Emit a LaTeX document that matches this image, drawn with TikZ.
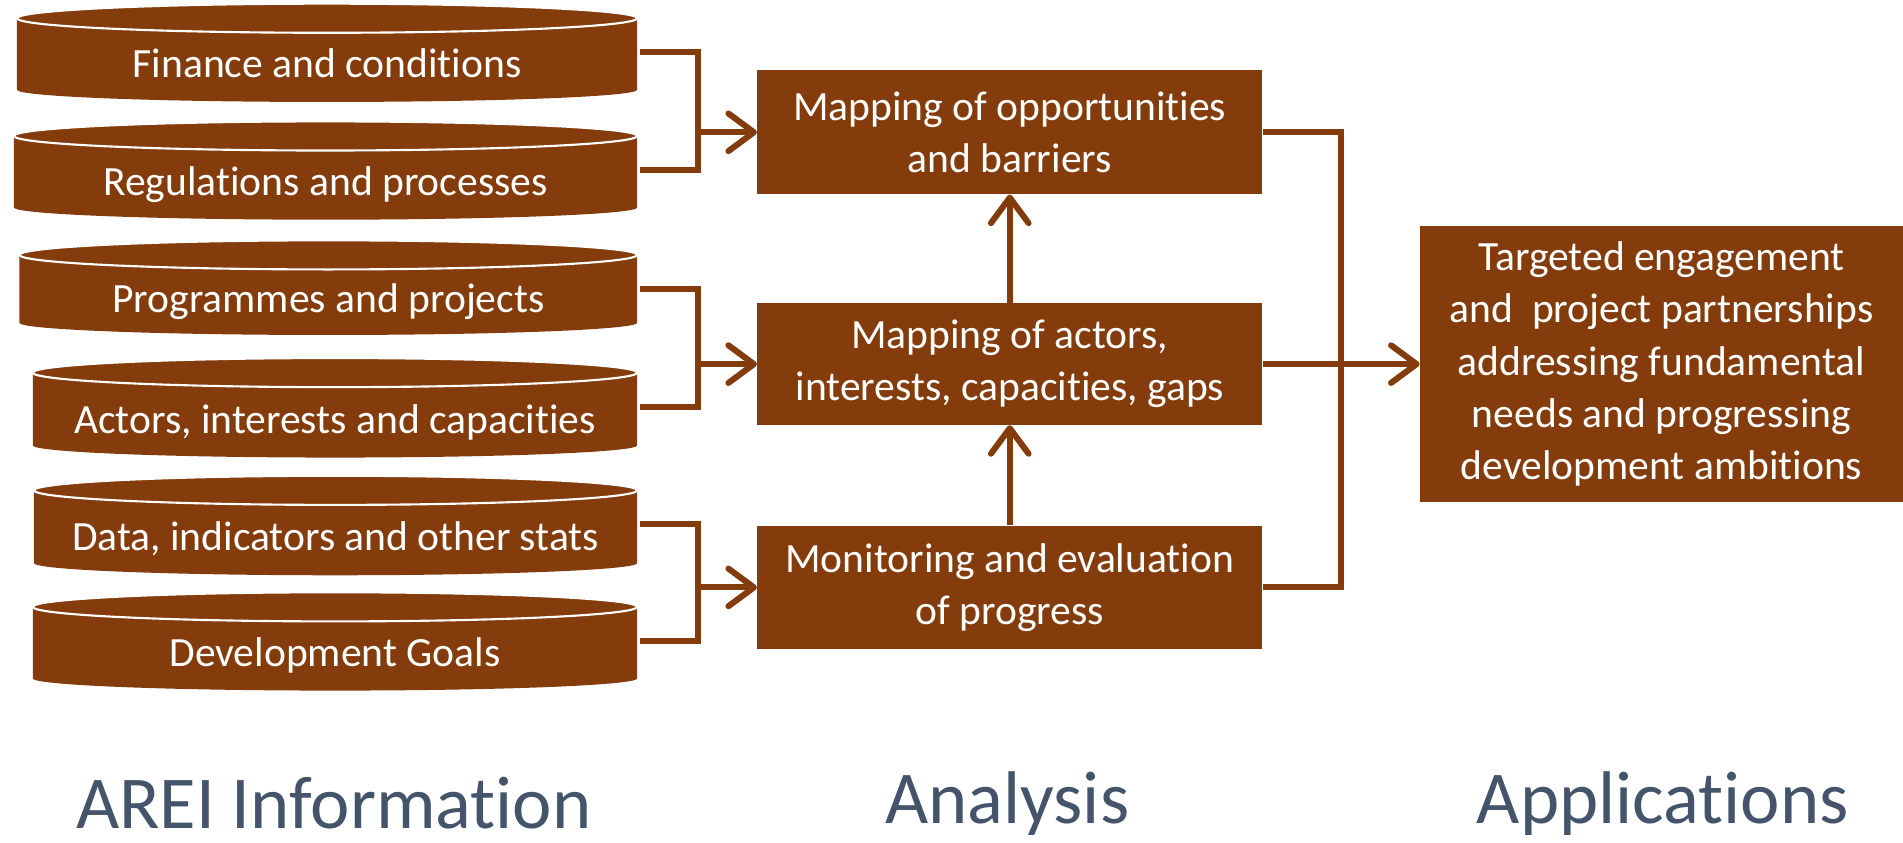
\documentclass[tikz,border=0pt]{standalone}
\usepackage{fontspec}
\setmainfont{Carlito}[Ligatures=CommonOff]
\usepackage{tikz}
\usetikzlibrary{arrows.meta}
\definecolor{arei}{HTML}{843C0C}
\definecolor{areilabel}{HTML}{44546A}
\tikzset{
  dbtext/.style={text=white, inner sep=0pt, anchor=base, font=\fontsize{19.5}{24}\selectfont},
  areibox/.style={rectangle, fill=arei, text=white, align=center, inner sep=0pt, font=\fontsize{19.5}{24.5}\selectfont},
  areiline/.style={draw=arei, line width=0.1cm},
  areiarrow/.style={areiline, -{Straight Barb[length=0.42cm, width=0.62cm, round]}},
  areilabel/.style={text=areilabel, inner sep=0pt, font=\fontsize{35}{42}\selectfont}
}
\newcommand{\infodb}[5] {
  \fill[arei] (#2,{-#3-12}) -- (#2,{-#4+10}) arc[start angle=180, end angle=360, x radius={(525-#2)/2}, y radius=10] -- (525,{-#3-12}) -- cycle;
  \filldraw[fill=arei, draw=white, line width=0.035cm] ({(525+#2)/2},{-#3-12}) ellipse [x radius={(525-#2)/2}, y radius=12];
  \node at ({(525+#2)/2},{-(#3+0.62*(#4-#3)+11)}) (#1) [dbtext] {#5};
  \coordinate (#1out) at (527,{-#3-40});
}
\newcommand{\areibox}[5] {\node at (#1) (#2) [areibox, minimum width=#3, minimum height=#4] {#5};}

\begin{document}
\begin{tikzpicture}[x=0.02cm, y=0.02cm]

\useasboundingbox (0,0) rectangle (1568,-694);

\infodb{fin}{14}{3}{84}{Finance and conditions}
\infodb{reg}{11.5}{100}{181}{Regulations and processes}
\infodb{prog}{16}{198}{276}{Programmes and projects}
\infodb{act}{27}{295}{377}{Actors, interests and capacities}
\infodb{data}{28}{392}{474}{Data, indicators and other stats}
\infodb{goals}{27}{488}{569}{Development Goals}

\areibox{832,-109}{opp}{8.32cm}{2.04cm}{Mapping of opportunities\\and barriers}
\areibox{832,-300}{actors}{8.32cm}{2.0cm}{Mapping of actors,\\interests, capacities, gaps}
\areibox{832,-484}{mon}{8.32cm}{2.04cm}{Monitoring and evaluation\\of progress}
\areibox{1369,-300}{target}{7.96cm}{4.56cm}{Targeted engagement\\and\ \ project partnerships\\addressing fundamental\\needs and progressing\\development ambitions}

\coordinate (join1) at (575,-109);
\coordinate (join2) at (575,-300);
\coordinate (join3) at (575,-484);
\coordinate (joinout) at (1105,-300);

\draw[areiline] (finout) -| (join1) |- (regout);
\draw[areiline] (progout) -| (join2) |- (actout);
\draw[areiline] (dataout) -| (join3) |- (goalsout);
\draw[areiarrow] (join1) -- (opp.west);
\draw[areiarrow] (join2) -- (actors.west);
\draw[areiarrow] (join3) -- (mon.west);

\draw[areiarrow] (actors.north) -- (opp.south);
\draw[areiarrow] (mon.north) -- (actors.south);

\draw[areiline] (opp.east) -| (joinout) |- (mon.east);
\draw[areiarrow] (actors.east) -- (target.west);

\node at (275,-662) (info) [areilabel] {AREI Information};
\node at (830,-662) (analysis) [areilabel] {Analysis};
\node at (1370,-662) (apps) [areilabel] {Applications};

\end{tikzpicture}
\end{document}
